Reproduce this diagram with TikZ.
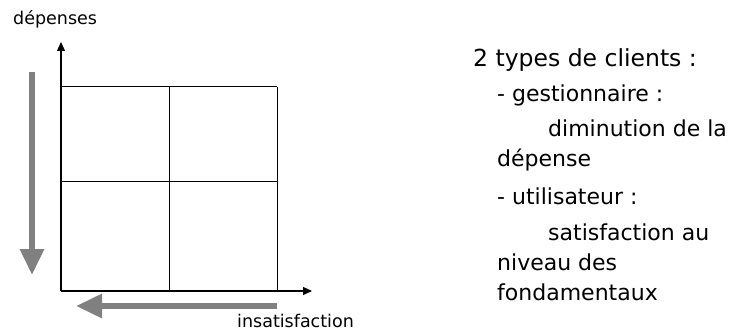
\documentclass[tikz,border=0pt]{standalone}
\usepackage{fontspec}
\setmainfont{DejaVu Sans}
\usetikzlibrary{arrows.meta}
\definecolor{arrowgray}{RGB}{128,128,128}

\begin{document}
\begin{tikzpicture}[x=1pt,y=-1pt]

\tikzset{axis/.style = {line width=1.2pt, -{Triangle[length=9pt,width=8pt]}}}
\tikzset{gridline/.style = {line width=1pt}}
\tikzset{trend/.style = {arrowgray, line width=6pt, -{Triangle[length=26pt,width=23pt]}}}
\tikzset{axislabel/.style = {inner sep=0, anchor=base west, font=\fontsize{17.5}{20}\selectfont}}
\tikzset{headline/.style = {inner sep=0, anchor=base west, font=\fontsize{23.5}{27}\selectfont}}
\tikzset{textline/.style = {inner sep=0, anchor=base west, font=\fontsize{22}{26}\selectfont}}

\useasboundingbox (0,0) rectangle (736,334);
%axes
\coordinate (O) at (61,291);
\coordinate (ytop) at (61,42);
\coordinate (xend) at (312,291);
\draw[axis] (O) -- (ytop);
\draw[axis] (O) -- (xend);
%grid
\coordinate (tl) at (61,87);
\coordinate (tm) at (169,87);
\coordinate (tr) at (277,87);
\coordinate (ml) at (61,181);
\coordinate (mr) at (277,181);
\coordinate (bm) at (169,291);
\coordinate (br) at (277,291);
\draw[gridline] (tl) -- (tr);
\draw[gridline] (ml) -- (mr);
\draw[gridline] (tm) -- (bm);
\draw[gridline] (tr) -- (br);
%gray arrows
\coordinate (vstart) at (32,72);
\coordinate (vend) at (32,275);
\coordinate (hstart) at (277,306);
\coordinate (hend) at (76,306);
\draw[trend] (vstart) -- (vend);
\draw[trend] (hstart) -- (hend);
%labels
\node[axislabel] (depenses) at (13,25) {dépenses};
\node[axislabel] (insat) at (237,327) {insatisfaction};
%text
\node[headline] (types) at (473,67) {2 types de clients :};
\node[textline] (gest) at (497,102) {- gestionnaire :};
\node[textline] (dimin) at (548,137) {diminution de la};
\node[textline] (dep) at (497,167) {dépense};
\node[textline] (util) at (497,204) {- utilisateur :};
\node[textline] (satis) at (548,240) {satisfaction au};
\node[textline] (niveau) at (497,270) {niveau des};
\node[textline] (fond) at (497,300) {fondamentaux};

\end{tikzpicture}
\end{document}
